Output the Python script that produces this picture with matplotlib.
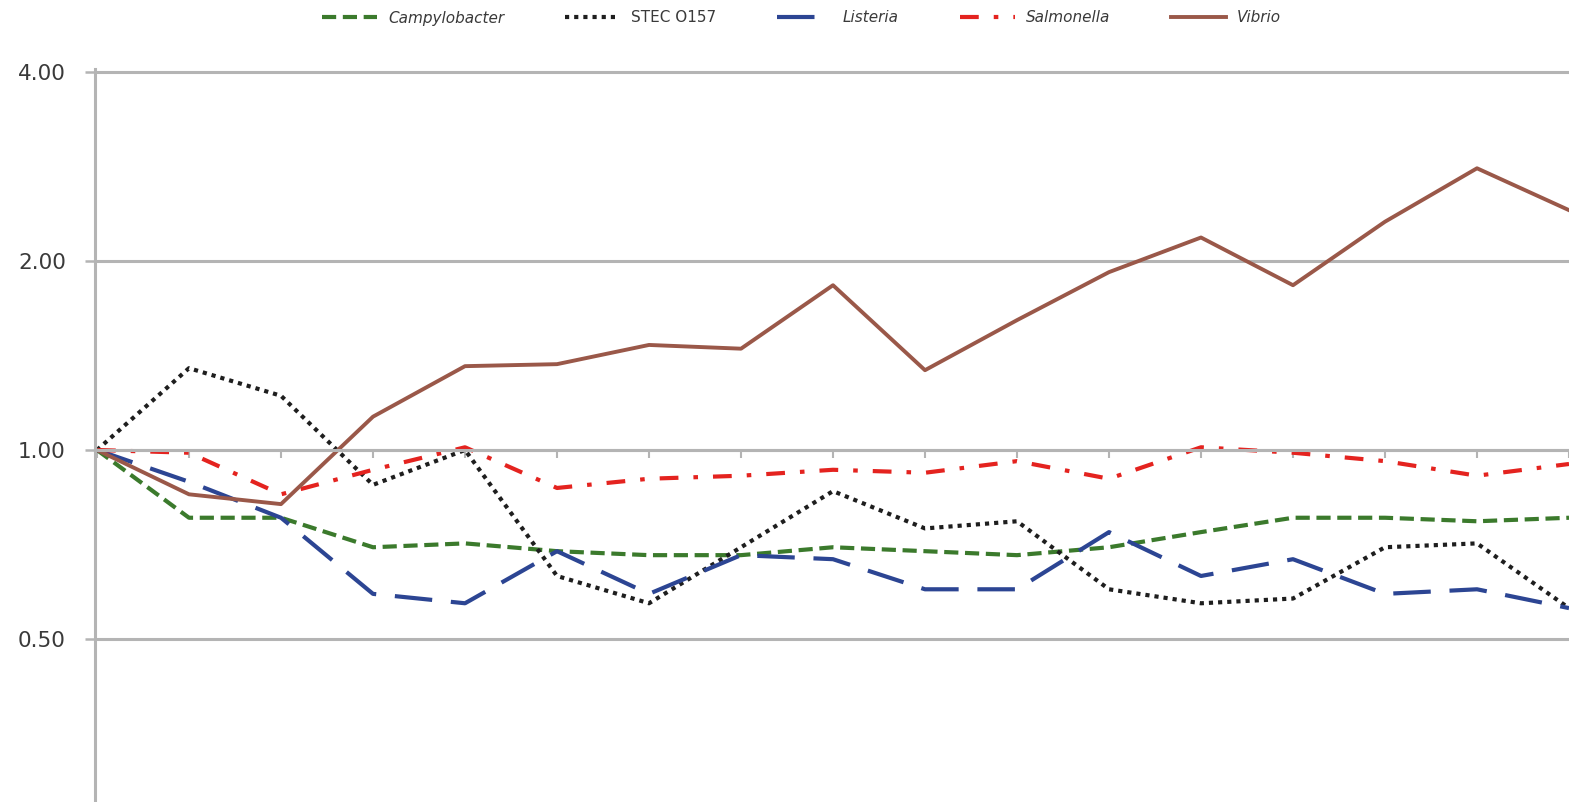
import matplotlib

matplotlib.use("Agg")
import matplotlib.pyplot as plt
from matplotlib.ticker import FixedLocator, NullFormatter, NullLocator

# relative rates, one value per year (first year = 1.00)
years = list(range(1996, 2013))
campylobacter = [1.00, 0.78, 0.78, 0.70, 0.71, 0.69, 0.68, 0.68, 0.70, 0.69, 0.68, 0.70, 0.74, 0.78, 0.78, 0.77, 0.78]
stec_o157 = [1.00, 1.35, 1.22, 0.88, 1.00, 0.63, 0.57, 0.70, 0.86, 0.75, 0.77, 0.60, 0.57, 0.58, 0.70, 0.71, 0.56]
listeria = [1.00, 0.89, 0.78, 0.59, 0.57, 0.69, 0.59, 0.68, 0.67, 0.60, 0.60, 0.74, 0.63, 0.67, 0.59, 0.60, 0.56]
salmonella = [1.00, 0.99, 0.85, 0.93, 1.01, 0.87, 0.90, 0.91, 0.93, 0.92, 0.96, 0.90, 1.01, 0.99, 0.96, 0.91, 0.95]
vibrio = [1.00, 0.85, 0.82, 1.13, 1.36, 1.37, 1.47, 1.45, 1.83, 1.34, 1.61, 1.92, 2.18, 1.83, 2.31, 2.81, 2.41]

y_ticks = [0.5, 1.0, 2.0, 4.0]
y_tick_labels = ["0.50", "1.00", "2.00", "4.00"]

plt.rcParams["font.family"] = ["DejaVu Sans"]

W, H = 1569, 802
fig = plt.figure(figsize=(W / 100, H / 100), dpi=100)
ax = fig.add_axes((95 / W, 0, (W - 95) / W, (H - 69) / H))

grid_col = "#b4b4b4"

ax.plot(years, campylobacter, color="#3b7a2c", lw=3.0, linestyle=(0, (3.4, 1.6)), label="Campylobacter")
ax.plot(years, stec_o157, color="#1e1e1e", lw=3.0, linestyle=(0, (1.0, 1.2)), label="STEC O157")
ax.plot(years, listeria, color="#2c4593", lw=3.0, linestyle=(0, (9, 4.5)), label="Listeria")
ax.plot(years, salmonella, color="#e4231f", lw=3.0, linestyle=(0, (4.5, 3.6, 1.1, 3.6)), label="Salmonella")
ax.plot(years, vibrio, color="#9a5849", lw=2.8, label="Vibrio")

ax.set_yscale("log", base=2)
ax.set_ylim(2 ** ((450 - 802) / 189), 4 * 2 ** (3 / 189))
ax.set_xlim(years[0] - 2 / 92, years[0] + (W - 97) / 92)

ax.yaxis.set_major_locator(FixedLocator(y_ticks))
ax.set_yticklabels(y_tick_labels)
ax.yaxis.set_minor_locator(NullLocator())
ax.yaxis.set_minor_formatter(NullFormatter())
ax.tick_params(axis="y", length=7, width=1.8, color=grid_col, pad=14,
               labelsize=15.5, labelcolor="#3a3a3a")

# category axis crosses at 1.00
ax.set_xticks(years)
ax.set_xticklabels([])
ax.spines["bottom"].set_position(("data", 1.0))
ax.spines["bottom"].set_color(grid_col)
ax.spines["bottom"].set_linewidth(2.2)
ax.tick_params(axis="x", direction="out", length=6, width=1.5, color=grid_col)

ax.spines["left"].set_color(grid_col)
ax.spines["left"].set_linewidth(2.2)
ax.spines["top"].set_visible(False)
ax.spines["right"].set_visible(False)

ax.grid(axis="y", which="major", color=grid_col, lw=2.2)
ax.set_axisbelow(True)

leg = fig.legend(loc="center", bbox_to_anchor=(0.511, 1 - 18 / H), ncol=5, frameon=False,
                 fontsize=11, handlelength=3.6, handletextpad=0.7, columnspacing=4.0)
for txt in leg.get_texts():
    if txt.get_text() != "STEC O157":
        txt.set_fontstyle("italic")
    txt.set_color("#3a3a3a")

fig.savefig("out.png", dpi=100)
